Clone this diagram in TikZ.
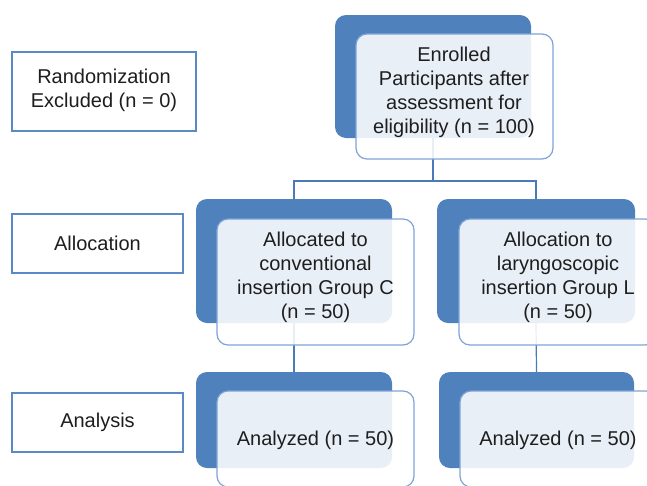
\documentclass[tikz,border=0pt]{standalone}
\usepackage{fontspec}
\setmainfont{Liberation Sans}
\definecolor{darkblue}{HTML}{4F81BD}
\definecolor{frontedge}{HTML}{7FA3D6}
\definecolor{labeledge}{HTML}{5A8AC6}
\definecolor{conncol}{HTML}{4A7BB7}
\definecolor{txt}{HTML}{1E1E1E}
\begin{document}
\begin{tikzpicture}[x=1pt,y=-1pt,
  backbox/.style={draw=none,fill=darkblue,rounded corners=11pt,inner sep=0pt},
  frontbox/.style={draw=frontedge,line width=1.2pt,fill=white,fill opacity=0.88,rounded corners=11pt,inner sep=0pt},
  labelbox/.style={draw=labeledge,line width=1.1pt,fill=white,inner sep=0pt},
  txtnode/.style={text=txt,align=center,inner sep=0pt,font=\fontsize{20pt}{24pt}\selectfont},
  conn/.style={draw=conncol,line width=1.2pt}]
\clip (0,0) rectangle (647,485);
\fill[white] (0,0) rectangle (647,485);
% left labels
\node[labelbox,minimum width=184pt,minimum height=79pt] (randbox) at (104,91.5) {};
\node[txtnode] (randtxt) at (104,90) {Randomization\\Excluded (n = 0)};
\node[labelbox,minimum width=171pt,minimum height=59pt] (allocbox) at (97.5,243.5) {};
\node[txtnode] (alloctxt) at (97.5,243) {Allocation};
\node[labelbox,minimum width=171pt,minimum height=59pt] (anabox) at (97.5,422.5) {};
\node[txtnode] (anatxt) at (97.5,422) {Analysis};
% back boxes
\node[backbox,minimum width=196pt,minimum height=123pt] (topB) at (433,76.5) {};
\node[backbox,minimum width=196pt,minimum height=124pt] (allocCB) at (294,261) {};
\node[backbox,minimum width=198pt,minimum height=124pt] (allocLB) at (536,261) {};
\node[backbox,minimum width=196pt,minimum height=96pt] (anaCB) at (294,420) {};
\node[backbox,minimum width=195pt,minimum height=96pt] (anaLB) at (536.5,420) {};
% connectors
\coordinate (junc) at (433,181);
\draw[conn] (topB.south) -- (junc);
\draw[conn] (junc) -| (allocCB.north);
\draw[conn] (junc) -| (allocLB.north);
\draw[conn] (allocCB.south) -- (anaCB.north);
\draw[conn] (allocLB.south) -- (anaLB.north);
% front boxes
\node[frontbox,minimum width=197pt,minimum height=125pt] (topF) at (454.5,96.5) {};
\node[frontbox,minimum width=197pt,minimum height=126pt] (allocCF) at (315.5,282) {};
\node[frontbox,minimum width=197pt,minimum height=126pt] (allocLF) at (557.5,282) {};
\node[frontbox,minimum width=197pt,minimum height=96pt] (anaCF) at (315.5,439) {};
\node[frontbox,minimum width=197pt,minimum height=96pt] (anaLF) at (558.5,439) {};
% texts
\node[txtnode] (topT) at (454,92.5) {Enrolled\\Participants after\\assessment for\\eligibility (n = 100)};
\node[txtnode] (allocCT) at (315.5,277) {Allocated to\\conventional\\insertion Group C\\(n = 50)};
\node[txtnode] (allocLT) at (558,277) {Allocation to\\laryngoscopic\\insertion Group L\\(n = 50)};
\node[txtnode] (anaCT) at (315.5,440) {Analyzed (n = 50)};
\node[txtnode] (anaLT) at (558,440) {Analyzed (n = 50)};
\end{tikzpicture}
\end{document}
